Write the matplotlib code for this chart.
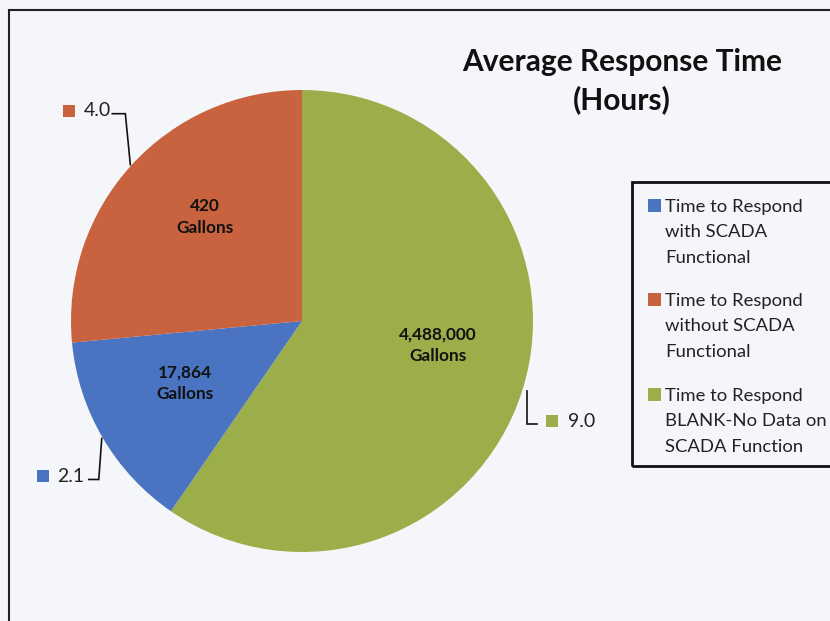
import numpy as np
import matplotlib
matplotlib.use("Agg")
import matplotlib.pyplot as plt
from matplotlib.patches import Rectangle

# ---- data ----
categories = ["Time to Respond\nwith SCADA\nFunctional",
              "Time to Respond\nwithout SCADA\nFunctional",
              "Time to Respond\nBLANK-No Data on\nSCADA Function"]
hours = [2.1, 4.0, 9.0]
gallons = [17864, 420, 4488000]
colors = ["#4a73c2", "#c9623f", "#9cae4a"]
title = "Average Response Time\n(Hours)"

# pie drawing order (clockwise from 12 o'clock): green, blue, red
order = [2, 0, 1]

W, H = 830, 621
bg = "#f4f6fa"
fig = plt.figure(figsize=(W / 100, H / 100), dpi=100, facecolor=bg)
plt.rcParams['font.family'] = ['Lato', 'DejaVu Sans']

cx, cy, R = 302, 321, 231
ax = fig.add_axes([(cx - R) / W, (H - cy - R) / H, 2 * R / W, 2 * R / H])
ax.set_facecolor("none")
wedges, _ = ax.pie([hours[i] for i in order], colors=[colors[i] for i in order],
                   startangle=90, counterclock=False, radius=1,
                   wedgeprops=dict(linewidth=0))
ax.set_xlim(-1, 1)
ax.set_ylim(-1, 1)
ax.set_aspect("equal")
ax.axis("off")

# inside labels (gallons)
inner_pos = {0: (-0.506, -0.27), 1: (-0.42, 0.45), 2: (0.589, -0.105)}
for i in range(3):
    x, y = inner_pos[i]
    ax.text(x, y, f"{gallons[i]:,}\nGallons", ha="center", va="center",
            fontsize=12.4, fontweight="bold", color="#111111", linespacing=1.45)

# outside value labels with leader lines
u = 1.0 / R  # one pixel in data units
for w, i in zip(wedges, order):
    mid = np.deg2rad((w.theta1 + w.theta2) / 2)
    ex, ey = 1.005 * np.cos(mid), 1.005 * np.sin(mid)
    if i == 1:    # red, label up-left
        elb = (ex - 5 * u, ey + 51 * u)
        end = (elb[0] - 13 * u, elb[1])
        ha, tx = "right", end[0] - 1 * u
    elif i == 0:  # blue, label down-left
        elb = (ex - 3 * u, ey - 41 * u)
        end = (elb[0] - 10 * u, elb[1])
        ha, tx = "right", end[0] - 4 * u
    else:         # green, label down-right
        ex, ey = 1.02 * np.cos(mid), 1.02 * np.sin(mid)
        elb = (ex, ey - 33 * u)
        end = (elb[0] + 10 * u, elb[1])
        ha, tx = "left", end[0] + 31 * u
    ax.plot([ex, elb[0], end[0]], [ey, elb[1], end[1]], color="#111111",
            lw=1.2, clip_on=False, solid_joinstyle="miter")
    ty = end[1] + 3 * u
    ax.text(tx, ty, f"{hours[i]:.1f}", ha=ha, va="center",
            fontsize=14, color="#222222")
    # colour square
    if ha == "right":
        sx = tx - 48 * u
    else:
        sx = tx - 22 * u
    ax.add_patch(Rectangle((sx, ty - 6 * u), 12 * u, 12 * u,
                           facecolor=colors[i], edgecolor="none", clip_on=False))

# title
fig.text(622 / W, 1 - 81 / H, title, ha="center", va="center",
         fontsize=21.5, fontweight="bold", color="#111111", linespacing=1.4)

# legend (manual, handles aligned with first line)
fig.patches.append(Rectangle((632 / W, 1 - 466 / H), 220 / W, (466 - 182) / H,
                             transform=fig.transFigure, facecolor="none",
                             edgecolor="#111111", lw=2.0))
starts = [206, 300, 395]
for k, i in enumerate([0, 1, 2]):
    y0 = starts[k]
    fig.patches.append(Rectangle((648 / W, 1 - (y0 + 6) / H), 13 / W, 13 / H,
                                 transform=fig.transFigure,
                                 facecolor=colors[i], edgecolor="none"))
    fig.text(665 / W, 1 - (y0 - 7) / H, categories[i], ha="left", va="top",
             fontsize=13.3, color="#222222", linespacing=1.72)

# outer frame (extends beyond right/bottom)
fig.patches.append(Rectangle((9 / W, -0.1), 1.2, 1 - 10 / H + 0.1,
                             transform=fig.transFigure, facecolor="none",
                             edgecolor="#222222", lw=1.5))

fig.savefig("out.png", dpi=100, facecolor=bg)
